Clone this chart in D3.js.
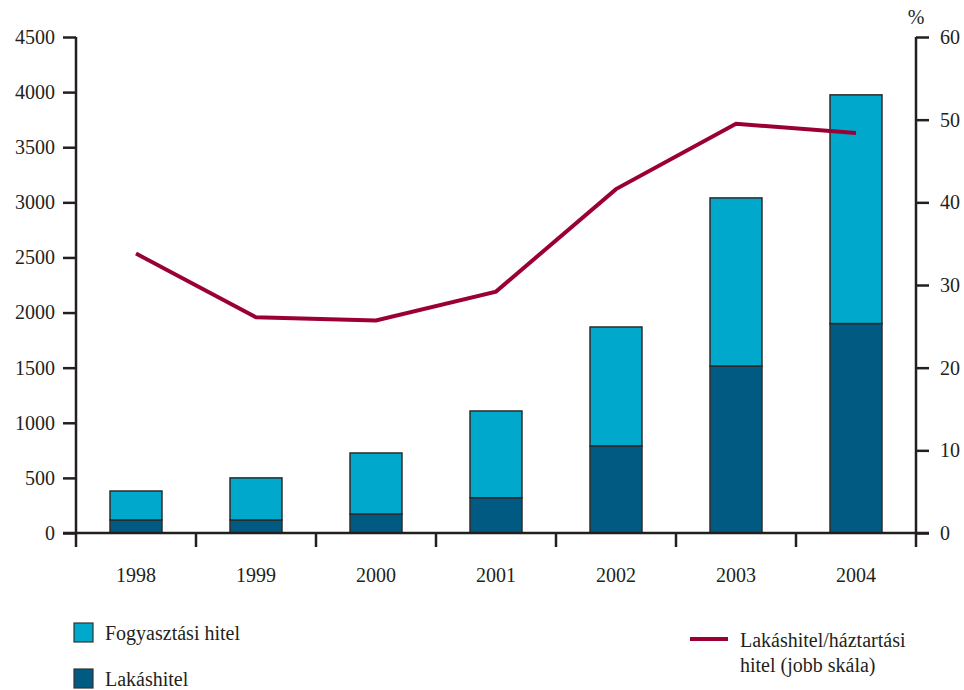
<!DOCTYPE html>
<html>
<head>
<meta charset="utf-8">
<title>Lakáshitel és fogyasztási hitel</title>
<script src="https://d3js.org/d3.v7.min.js"></script>
</head>
<body style="margin:0; background:#fff">
<div id="chart"></div>
<script>
// data
var years = ["1998", "1999", "2000", "2001", "2002", "2003", "2004"];
var lakashitel = [118, 118, 172, 320, 790, 1515, 1900];
var fogyasztasi = [263, 382, 554, 787, 1079, 1525, 2075];
var arany = [33.8, 26.1, 25.7, 29.2, 41.6, 49.5, 48.4];
var leftTicks = [0, 500, 1000, 1500, 2000, 2500, 3000, 3500, 4000, 4500];
var rightTicks = [0, 10, 20, 30, 40, 50, 60];

var width = 964, height = 690;
var x0 = 76, x1 = 916, yTop = 37, yBot = 533;
var serif = "'Liberation Serif'";

var lightBlue = "#00a8cc", darkBlue = "#005a82", lineRed = "#9b0034", ink = "#231f20";

var svg = d3.select("#chart").append("svg")
  .attr("width", width)
  .attr("height", height);

var x = d3.scaleBand().domain(years).range([x0, x1]).paddingInner(0.567).paddingOuter(0.2835);
var band = d3.scaleBand().domain(years).range([x0, x1]);
var yL = d3.scaleLinear().domain([0, 4500]).range([yBot, yTop]);
var yR = d3.scaleLinear().domain([0, 60]).range([yBot, yTop]);

// stacked bars
var rows = years.map(function(y, i) { return {year: y, lak: lakashitel[i], fogy: fogyasztasi[i]}; });
var stack = d3.stack().keys(["lak", "fogy"])(rows);
var colors = {lak: darkBlue, fogy: lightBlue};

svg.selectAll("g.layer")
  .data(stack)
  .enter().append("g")
    .attr("class", "layer")
    .attr("fill", function(d) { return colors[d.key]; })
  .selectAll("rect")
  .data(function(d) { return d; })
  .enter().append("rect")
    .attr("x", function(d) { return x(d.data.year); })
    .attr("width", x.bandwidth())
    .attr("y", function(d) { return yL(d[1]); })
    .attr("height", function(d) { return yL(d[0]) - yL(d[1]); })
    .attr("stroke", "#2b2b2b")
    .attr("stroke-width", 1.5);

// line on the right scale
var line = d3.line()
  .x(function(d, i) { return band(years[i]) + band.bandwidth() / 2; })
  .y(function(d) { return yR(d); });

svg.append("path")
  .datum(arany)
  .attr("d", line)
  .attr("fill", "none")
  .attr("stroke", lineRed)
  .attr("stroke-width", 4);

// left axis
var gL = svg.append("g")
  .attr("transform", "translate(" + x0 + ",0)")
  .call(d3.axisLeft(yL).tickValues(leftTicks).tickSize(13).tickPadding(8).tickFormat(d3.format("d")));
gL.select(".domain").remove();
gL.append("line").attr("y1", yTop).attr("y2", yBot + 14);

// right axis
var gR = svg.append("g")
  .attr("transform", "translate(" + x1 + ",0)")
  .call(d3.axisRight(yR).tickValues(rightTicks).tickSize(13).tickPadding(11));
gR.select(".domain").remove();
gR.append("line").attr("y1", yTop).attr("y2", yBot + 14);

[gL, gR].forEach(function(g) {
  g.attr("font-family", null).attr("font-size", null);
  g.selectAll("line").attr("stroke", ink).attr("stroke-width", 2.5);
});

svg.append("text")
  .attr("x", x1)
  .attr("y", 24)
  .attr("text-anchor", "middle")
  .text("%");

// x axis
svg.append("line")
  .attr("x1", x0 - 13).attr("x2", x1 + 13)
  .attr("y1", yBot).attr("y2", yBot)
  .attr("stroke", ink).attr("stroke-width", 2.5);

svg.selectAll("line.xtick")
  .data(years.slice(1))
  .enter().append("line")
    .attr("class", "xtick")
    .attr("x1", function(d) { return band(d); })
    .attr("x2", function(d) { return band(d); })
    .attr("y1", yBot).attr("y2", yBot + 14)
    .attr("stroke", ink).attr("stroke-width", 2.5);

svg.selectAll("text.xlab")
  .data(years)
  .enter().append("text")
    .attr("class", "xlab")
    .attr("x", function(d) { return band(d) + band.bandwidth() / 2; })
    .attr("y", 582)
    .attr("text-anchor", "middle")
    .text(function(d) { return d; });

// legend
var legend = [
  {label: "Fogyasztási hitel", color: lightBlue, y: 623},
  {label: "Lakáshitel", color: darkBlue, y: 669}
];
svg.selectAll("rect.leg")
  .data(legend)
  .enter().append("rect")
    .attr("class", "leg")
    .attr("x", 74).attr("y", function(d) { return d.y; })
    .attr("width", 19).attr("height", 19)
    .attr("fill", function(d) { return d.color; })
    .attr("stroke", "#333").attr("stroke-width", 1.2);
svg.selectAll("text.leg")
  .data(legend)
  .enter().append("text")
    .attr("class", "leg")
    .attr("x", 105).attr("y", function(d) { return d.y + 17; })
    .text(function(d) { return d.label; });

svg.append("line")
  .attr("x1", 690).attr("x2", 728)
  .attr("y1", 639).attr("y2", 639)
  .attr("stroke", lineRed).attr("stroke-width", 4);
svg.append("text")
  .attr("x", 740).attr("y", 647)
  .text("Lakáshitel/háztartási");
svg.append("text")
  .attr("x", 740).attr("y", 672)
  .text("hitel (jobb skála)");

// all texts in the serif face
svg.selectAll("text")
  .attr("font-family", "Liberation Serif")
  .attr("font-size", 20)
  .attr("fill", ink)
  .style("font-family", serif)
  .style("font-size", "20px");
</script>
</body>
</html>
